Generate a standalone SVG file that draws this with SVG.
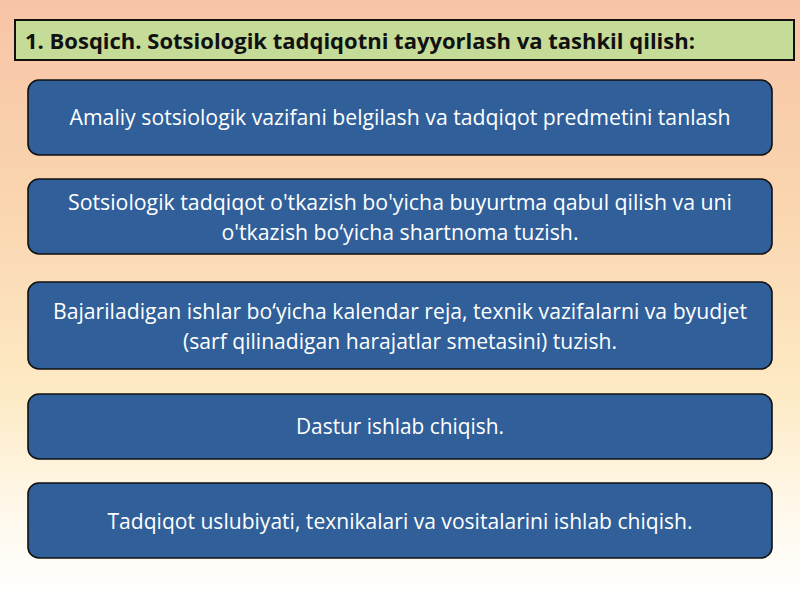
<svg xmlns="http://www.w3.org/2000/svg" width="800" height="600" viewBox="0 0 800 600">
<defs>
<linearGradient id="bg" x1="0" y1="0" x2="0" y2="1">
<stop offset="0" stop-color="#f8c4a6"/>
<stop offset="0.35" stop-color="#fad6b0"/>
<stop offset="0.65" stop-color="#fdeac4"/>
<stop offset="0.88" stop-color="#fffaf0"/>
<stop offset="1" stop-color="#ffffff"/>
</linearGradient>
<style>
.box{fill:#305f99;stroke:#111;stroke-width:1.6}
.t{font-family:"Open Sans","Liberation Sans",sans-serif;font-size:21px;fill:#ffffff;text-anchor:middle}
.title{font-family:"Open Sans","Liberation Sans",sans-serif;font-size:22px;font-weight:bold;fill:#111}
</style>
</defs>
<rect width="800" height="600" fill="url(#bg)"/>
<g id="title">
<rect x="15" y="20" width="779" height="40" fill="#c4dc98" stroke="#111" stroke-width="2"/>
<text class="title" x="25" y="49" textLength="670" lengthAdjust="spacingAndGlyphs">1. Bosqich. Sotsiologik tadqiqotni tayyorlash va tashkil qilish:</text>
</g>
<g id="node1">
<rect class="box" x="28" y="80" width="744" height="75" rx="11"/>
<text class="t" x="400" y="125" textLength="661" lengthAdjust="spacingAndGlyphs">Amaliy sotsiologik vazifani belgilash va tadqiqot predmetini tanlash</text>
</g>
<g id="node2">
<rect class="box" x="28" y="179" width="744" height="75" rx="11"/>
<text class="t" x="400" y="210" textLength="664" lengthAdjust="spacingAndGlyphs">Sotsiologik tadqiqot o'tkazish bo'yicha buyurtma qabul qilish va uni</text>
<text class="t" x="400" y="240" textLength="357" lengthAdjust="spacingAndGlyphs">o'tkazish bo‘yicha shartnoma tuzish.</text>
</g>
<g id="node3">
<rect class="box" x="28" y="282" width="744" height="87" rx="11"/>
<text class="t" x="400" y="319" textLength="694" lengthAdjust="spacingAndGlyphs">Bajariladigan ishlar bo‘yicha kalendar reja, texnik vazifalarni va byudjet</text>
<text class="t" x="400" y="349" textLength="434" lengthAdjust="spacingAndGlyphs">(sarf qilinadigan harajatlar smetasini) tuzish.</text>
</g>
<g id="node4">
<rect class="box" x="28" y="394" width="744" height="65" rx="11"/>
<text class="t" x="400" y="434" textLength="208" lengthAdjust="spacingAndGlyphs">Dastur ishlab chiqish.</text>
</g>
<g id="node5">
<rect class="box" x="28" y="483" width="744" height="75" rx="11"/>
<text class="t" x="400" y="529" textLength="585" lengthAdjust="spacingAndGlyphs">Tadqiqot uslubiyati, texnikalari va vositalarini ishlab chiqish.</text>
</g>
<g id="connectors"/>
</svg>
